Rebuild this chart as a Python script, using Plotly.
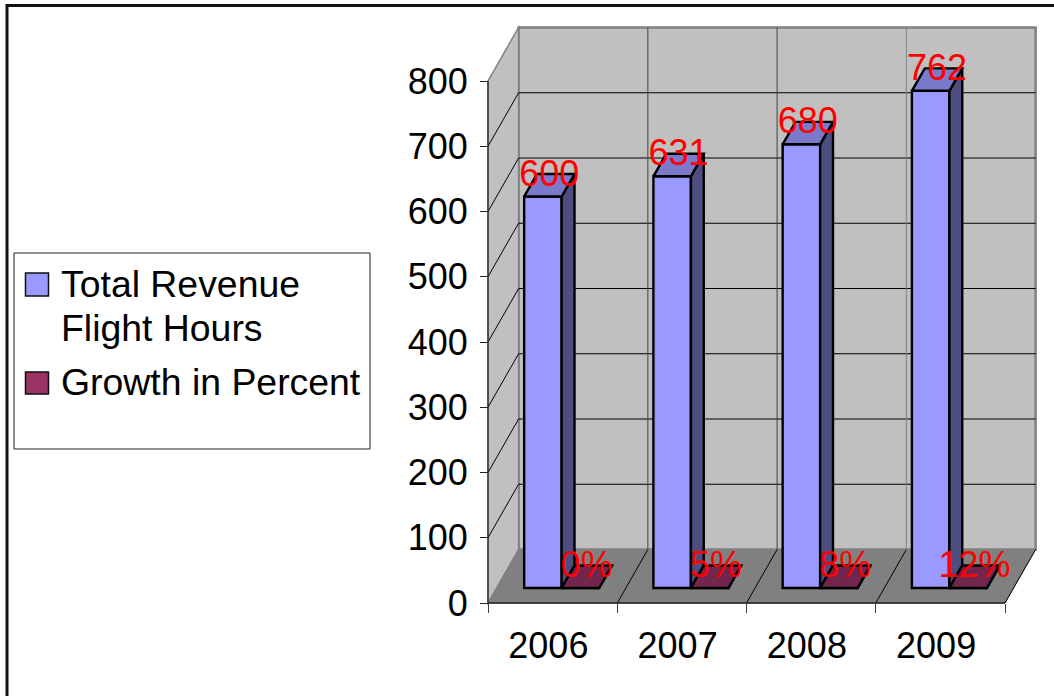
import plotly.graph_objects as go

years = ['2006', '2007', '2008', '2009']
flight_hours = [600, 631, 680, 762]
growth = [0.0, 0.05, 0.08, 0.12]
y_ticks = [0, 100, 200, 300, 400, 500, 600, 700, 800]

WIDTH = 1054
HEIGHT = 696
FONT = 'Liberation Sans, Arial, sans-serif'

# pixel scale of the front plane of the fake 3d box
ORIGIN_X = 488
ORIGIN_Y = 603
UNIT_X = 129.25
UNIT_Y = 0.6525
# how far the back wall is pushed, in axis units
DEPTH_X = 30.6 / UNIT_X
DEPTH_Y = 53.5 / UNIT_Y
# bars stand between these two fractions of the depth
D_FRONT = 0.28
D_BACK = 0.70
BAR_W = 0.29
BAR_GAP = 0.2135
Y_MAX = 800
N = len(years)
# data labels sit a little under the back edge of the top face
LABEL_DROP = 2.5 / UNIT_Y


def project(x, v, d):
    return x + d * DEPTH_X, v + d * DEPTH_Y


def line_shape(p0, p1, color='black', width=1):
    return dict(type='line', x0=p0[0], y0=p0[1], x1=p1[0], y1=p1[1],
                layer='below', line=dict(color=color, width=width))


def poly_shape(points, fill, color='#808080', width=1):
    path = 'M' + ' L'.join(f'{x},{y}' for x, y in points) + ' Z'
    return dict(type='path', path=path, fillcolor=fill, layer='below',
                line=dict(color=color, width=width))


def box_faces(values, slot):
    """Side and top polygons of one series, as one xy path each"""
    side_x, side_y, top_x, top_y = [], [], [], []
    for i, v in enumerate(values):
        left = i + BAR_GAP + slot * BAR_W
        right = left + BAR_W
        side = [project(right, 0, D_FRONT), project(right, v, D_FRONT),
                project(right, v, D_BACK), project(right, 0, D_BACK)]
        top = [project(left, v, D_FRONT), project(right, v, D_FRONT),
               project(right, v, D_BACK), project(left, v, D_BACK)]
        for x, y in side + [side[0]]:
            side_x.append(x)
            side_y.append(y)
        side_x.append(None)
        side_y.append(None)
        for x, y in top + [top[0]]:
            top_x.append(x)
            top_y.append(y)
        top_x.append(None)
        top_y.append(None)
    return side_x, side_y, top_x, top_y


def add_series(fig, values, slot, front, side_color, top_color):
    base_x, base_y = project(0, 0, D_FRONT)
    fig.add_trace(go.Bar(
        x=[i + BAR_GAP + (slot + 0.5) * BAR_W + base_x for i in range(N)],
        y=values,
        base=base_y,
        width=BAR_W,
        marker=dict(color=front, line=dict(color='black', width=2.4)),
    ))
    side_x, side_y, top_x, top_y = box_faces(values, slot)
    for xs, ys, color in [(side_x, side_y, side_color), (top_x, top_y, top_color)]:
        fig.add_trace(go.Scatter(
            x=xs, y=ys, mode='lines', fill='toself', fillcolor=color,
            line=dict(color='black', width=2.4),
        ))


def add_labels(fig, values, slot, labels):
    xs, ys = [], []
    for i, v in enumerate(values):
        centre = i + BAR_GAP + (slot + 0.5) * BAR_W
        xs.append(project(centre, v, (D_FRONT + D_BACK) / 2)[0])
        ys.append(project(centre, v, D_BACK)[1] - LABEL_DROP)
    fig.add_trace(go.Scatter(
        x=xs, y=ys, mode='text', text=labels, textposition='middle center',
        textfont=dict(color='#ff0000', size=36, family=FONT), cliponaxis=False,
    ))


fig = go.Figure()

add_series(fig, flight_hours, 0, '#9999ff', '#4d4d80', '#7a7acc')
add_series(fig, growth, 1, '#993366', '#4d1a33', '#73264d')
add_labels(fig, flight_hours, 0, [str(v) for v in flight_hours])
add_labels(fig, growth, 1, [f'{v:.0%}' for v in growth])

# walls and floor
shapes = [
    poly_shape([project(0, 0, 1), project(N, 0, 1), project(N, Y_MAX, 1), project(0, Y_MAX, 1)],
               '#c0c0c0', '#808080', 2.5),
    poly_shape([project(0, 0, 0), project(0, 0, 1), project(0, Y_MAX, 1), project(0, Y_MAX, 0)],
               '#c0c0c0', '#808080', 1.5),
    poly_shape([project(0, 0, 0), project(N, 0, 0), project(N, 0, 1), project(0, 0, 1)],
               '#808080', '#808080', 1),
]
for v in y_ticks[1:-1]:
    shapes.append(line_shape(project(0, v, 0), project(0, v, 1)))
    shapes.append(line_shape(project(0, v, 1), project(N, v, 1)))
for i in range(1, N):
    shapes.append(line_shape(project(i, 0, 0), project(i, 0, 1)))
    shapes.append(line_shape(project(i, 0, 1), project(i, Y_MAX, 1),
                             '#808080' if i == N - 1 else '#404040'))
shapes.append(line_shape(project(N, 0, 0), project(N, 0, 1)))
shapes.append(line_shape(project(0, 0, 0), project(0, Y_MAX, 0), '#202020', 1.2))
shapes.append(line_shape(project(0, 0, 0), project(N, 0, 0), '#202020', 1.5))

# frame of the picture, only top and left
shapes.append(dict(type='line', xref='paper', yref='paper', x0=6 / WIDTH, x1=1,
                   y0=1 - 5.5 / HEIGHT, y1=1 - 5.5 / HEIGHT, line=dict(color='#101010', width=3)))
shapes.append(dict(type='line', xref='paper', yref='paper', x0=7 / WIDTH, x1=7 / WIDTH,
                   y0=0, y1=1 - 4 / HEIGHT, line=dict(color='#101010', width=3)))

# legend box, drawn by hand because the swatches are larger than plotly's
shapes.append(dict(type='rect', xref='paper', yref='paper',
                   x0=14 / WIDTH, x1=370 / WIDTH, y0=1 - 449 / HEIGHT, y1=1 - 253 / HEIGHT,
                   fillcolor='white', line=dict(color='#202020', width=1)))
legend_items = [('#9999ff', 273, 296), ('#993366', 372, 394)]
for color, top, bottom in legend_items:
    shapes.append(dict(type='rect', xref='paper', yref='paper',
                       x0=25.5 / WIDTH, x1=48.5 / WIDTH, y0=1 - bottom / HEIGHT, y1=1 - top / HEIGHT,
                       fillcolor=color, line=dict(color='#101010', width=1.5)))

legend_lines = [('Total Revenue', 283.5), ('Flight Hours', 327.5), ('Growth in Percent', 381.5)]
annotations = [
    dict(text=text, xref='paper', yref='paper', x=61 / WIDTH, y=1 - py / HEIGHT,
         xanchor='left', yanchor='middle', showarrow=False, xshift=-2.5,
         font=dict(size=37.4, family=FONT, color='black'))
    for text, py in legend_lines
]

fig.update_layout(
    width=WIDTH,
    height=HEIGHT,
    margin=dict(l=0, r=0, t=0, b=0),
    paper_bgcolor='white',
    plot_bgcolor='white',
    showlegend=False,
    barmode='overlay',
    hovermode=False,
    shapes=shapes,
    annotations=annotations,
)
fig.update_xaxes(
    range=[-ORIGIN_X / UNIT_X, (WIDTH - ORIGIN_X) / UNIT_X],
    anchor='free',
    position=1 - ORIGIN_Y / HEIGHT,
    tickvals=[i + 0.467 for i in range(N)],
    ticktext=years,
    ticks='',
    ticklabelstandoff=18,
    tickfont=dict(size=36, family=FONT, color='black'),
    minor=dict(tickvals=list(range(N + 1)), ticks='outside', ticklen=9, tickcolor='#404040', tickwidth=1),
    showgrid=False,
    zeroline=False,
    showline=False,
)
fig.update_yaxes(
    range=[(ORIGIN_Y - HEIGHT) / UNIT_Y, ORIGIN_Y / UNIT_Y],
    anchor='free',
    position=ORIGIN_X / WIDTH,
    tickvals=y_ticks,
    ticks='outside',
    ticklen=8,
    tickcolor='#202020',
    tickwidth=1,
    ticklabelstandoff=5,
    tickfont=dict(size=36, family=FONT, color='black'),
    showgrid=False,
    zeroline=False,
    showline=False,
)

fig.write_html(
    "out.html",
    config={'displayModeBar': False},
    post_script="document.body.style.margin='0';document.body.style.overflow='hidden';",
)
